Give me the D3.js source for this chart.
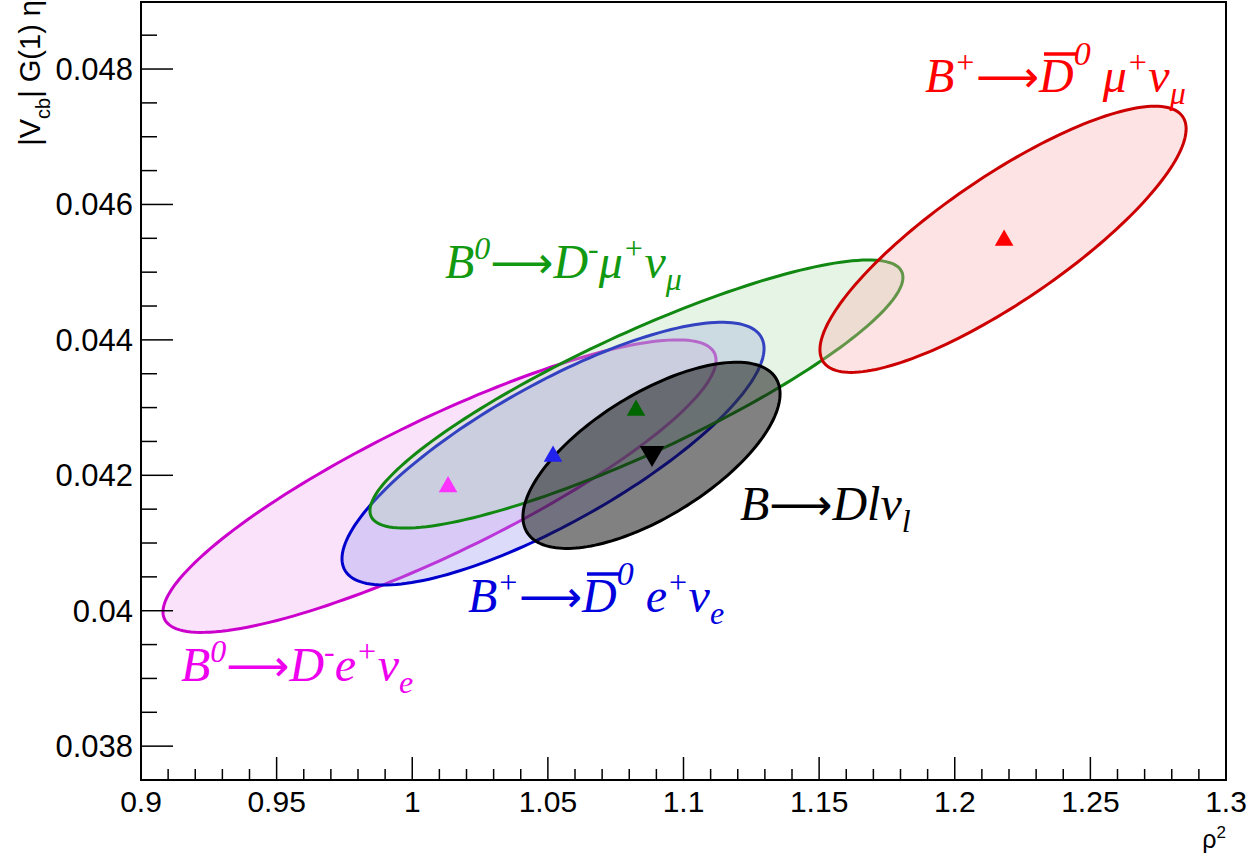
<!DOCTYPE html>
<html><head><meta charset="utf-8">
<script src="https://cdn.jsdelivr.net/npm/d3@7"></script>
<style>body{margin:0;background:#fff}</style>
</head><body><svg id="c"></svg>
<script>
// ellipses: x/y extents (bounding box) and correlation
const names = ['Bd_e', 'Bu_e', 'Bd_mu', 'comb', 'Bu_mu'];
const xMin = [0.9081, 0.9741, 0.9844, 1.0408, 1.1503];
const xMax = [1.1120, 1.1297, 1.1809, 1.1356, 1.2853];
const yMin = [0.03968, 0.04038, 0.04122, 0.04092, 0.04352];
const yMax = [0.04400, 0.04426, 0.04518, 0.04367, 0.04745];
const rho = [0.86, 0.80, 0.87, 0.66, 0.83];
const markX = [1.0132, 1.0519, 1.0825, 1.0884, 1.2182];
const markY = [0.04183, 0.04228, 0.04296, 0.04233, 0.04547];
const strokes = ['#cc00cc', '#0000cc', '#118811', '#000000', '#cc0000'];
const fills = ['#f3a0f3', '#9a9af0', '#a8dca8', '#1a1a1a', '#f8b0b0'];
const fillOp = [0.3, 0.35, 0.3, 0.55, 0.35];
const markColor = ['#ff33ff', '#2222ee', '#006600', '#000000', '#ff0000'];
const xTicks = [0.9, 0.95, 1, 1.05, 1.1, 1.15, 1.2, 1.25, 1.3];
const yTicks = [0.038, 0.04, 0.042, 0.044, 0.046, 0.048];

const W = 1259, H = 856;
const m = {left: 141, right: 33, top: 2, bottom: 76};
const svg = d3.select('#c').attr('width', W).attr('height', H);
const iw = W - m.left - m.right, ih = H - m.top - m.bottom;
const g = svg.append('g').attr('transform', `translate(${m.left},${m.top})`);
const x = d3.scaleLinear().domain([0.9, 1.3]).range([0, iw]);
const y = d3.scaleLinear().domain([0.0375, 0.04899]).range([ih, 0]);

const line = d3.line().x(d => x(d[0])).y(d => y(d[1])).curve(d3.curveLinearClosed);
names.forEach((n, i) => {
    const cx = (xMin[i] + xMax[i]) / 2, cy = (yMin[i] + yMax[i]) / 2;
    const sx = (xMax[i] - xMin[i]) / 2, sy = (yMax[i] - yMin[i]) / 2;
    const phi = Math.acos(rho[i]);
    const pts = d3.range(0, 360, 2).map(a => {
        const t = a * Math.PI / 180;
        return [cx + sx * Math.cos(t), cy + sy * Math.cos(t - phi)];
    });
    g.append('path').attr('d', line(pts))
        .attr('fill', fills[i]).attr('fill-opacity', fillOp[i])
        .attr('stroke', strokes[i]).attr('stroke-width', 3);
});
names.forEach((n, i) => {
    g.append('path')
        .attr('d', d3.symbol(d3.symbolTriangle, i === 3 ? 260 : 150)())
        .attr('transform', `translate(${x(markX[i])},${y(markY[i])})${i === 3 ? ' rotate(180)' : ''}`)
        .attr('fill', markColor[i]);
});

// frame and axes
g.append('rect').attr('width', iw).attr('height', ih).attr('fill', 'none').attr('stroke', '#000').attr('stroke-width', 2);
const xa = g.append('g').attr('transform', `translate(0,${ih})`);
d3.range(0, 41).forEach(k => {
    const v = 0.9 + k * 0.01;
    xa.append('line').attr('x1', x(v)).attr('x2', x(v)).attr('y1', 0).attr('y2', k % 5 ? -11 : -23)
        .attr('stroke', '#000').attr('stroke-width', 1.5);
});
xa.selectAll('text').data(xTicks).join('text')
    .attr('x', d => x(d)).attr('y', 32).attr('text-anchor', 'middle')
    .style('font', '30px "Liberation Sans", Arial').text(d => String(+d.toFixed(2)));
const ya = g.append('g');
d3.range(0, 24).forEach(k => {
    const v = 0.0375 + k * 0.0005;
    if (v > 0.04899) return;
    const major = Math.abs((v * 1000) % 2) < 1e-6 || Math.abs((v * 1000) % 2 - 2) < 1e-6;
    ya.append('line').attr('x1', 0).attr('x2', major ? 32 : 16).attr('y1', y(v)).attr('y2', y(v))
        .attr('stroke', '#000').attr('stroke-width', 1.5);
});
ya.selectAll('text').data(yTicks).join('text')
    .attr('x', -8).attr('y', d => y(d)).attr('dy', '0.35em').attr('text-anchor', 'end')
    .style('font', '31px "Liberation Sans", Arial').text(d => String(+d.toFixed(3)));

svg.append('text').attr('x', 1226).attr('y', 848).attr('text-anchor', 'end')
    .style('font', '25px "Liberation Sans", Arial').html('ρ<tspan dy="-10" font-size="17">2</tspan>');
svg.append('text').attr('transform', 'translate(40,0) rotate(-90)').attr('text-anchor', 'end')
    .style('font', '29px "Liberation Sans", Arial')
    .html('|V<tspan dy="10" font-size="20">cb</tspan><tspan dy="-10">| G(1) η</tspan>');

// decay labels: every piece is a tspan with its own baseline offset
const lab = (px, py, col, html) => {
    const t = svg.append('text').attr('x', px).attr('y', py)
        .attr('fill', col).style('font', 'italic 48px "Liberation Serif", serif').html(html);
    t.selectAll('tspan').attr('y', function () { return py + (+this.getAttribute('data-o')); });
    t.selectAll('tspan.dbar').each(function () {
        const p = this.getStartPositionOfChar(0);
        const w = this.getComputedTextLength();
        svg.append('line').attr('x1', p.x + 5).attr('x2', p.x + w + 3)
            .attr('y1', py - 38).attr('y2', py - 38).attr('stroke', col).attr('stroke-width', 3.5);
    });
};
const n = s => `<tspan data-o="0">${s}</tspan>`;
const sup = s => `<tspan data-o="-19" font-size="32">${s}</tspan>`;
const sub = s => `<tspan data-o="12" font-size="32">${s}</tspan>`;
const arrow = '<tspan data-o="0" font-style="normal" font-family="DejaVu Sans" font-size="44">⟶</tspan>';
const dbar = '<tspan data-o="0" class="dbar">D</tspan><tspan data-o="-27" font-size="34">0</tspan>';
lab(925, 92, '#ff0000', `${n('B')}${sup('+')}${arrow}${dbar}${n(' μ')}${sup('+')}${n('ν')}${sub('μ')}`);
lab(445, 278, '#119911', `${n('B')}${sup('0')}${arrow}${n('D')}${sup('-')}${n('μ')}${sup('+')}${n('ν')}${sub('μ')}`);
lab(468, 612, '#0000dd', `${n('B')}${sup('+')}${arrow}${dbar}${n(' e')}${sup('+')}${n('ν')}${sub('e')}`);
lab(181, 681, '#ee00ee', `${n('B')}${sup('0')}${arrow}${n('D')}${sup('-')}${n('e')}${sup('+')}${n('ν')}${sub('e')}`);
lab(740, 520, '#000000', `${n('B')}${arrow}${n('Dlν')}${sub('l')}`);
</script></body></html>
